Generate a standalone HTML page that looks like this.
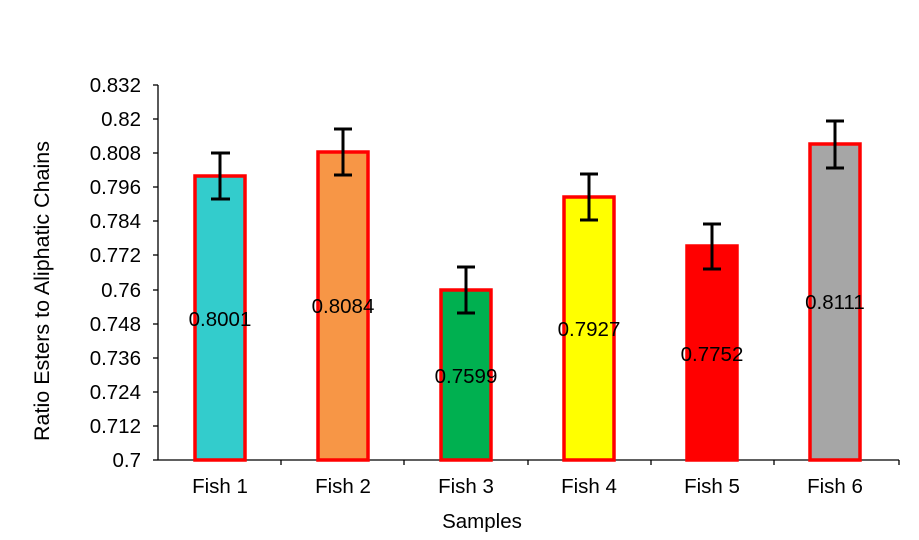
<!DOCTYPE html>
<html><head><meta charset="utf-8"><style>
body{margin:0;background:#fff}
text{font-family:"Liberation Sans",Arial,sans-serif;fill:#000}
</style></head><body>
<svg width="919" height="535" xmlns="http://www.w3.org/2000/svg">
<g font-size="20.5" text-anchor="end">
<text x="141" y="92">0.832</text>
<text x="141" y="126">0.82</text>
<text x="141" y="160">0.808</text>
<text x="141" y="194">0.796</text>
<text x="141" y="228">0.784</text>
<text x="141" y="262">0.772</text>
<text x="141" y="297">0.76</text>
<text x="141" y="331">0.748</text>
<text x="141" y="365">0.736</text>
<text x="141" y="399">0.724</text>
<text x="141" y="433">0.712</text>
<text x="141" y="467">0.7</text>
</g>
<g stroke="#000" stroke-width="1.3">
<line x1="158" y1="85" x2="158" y2="460"/>
<line x1="158" y1="460" x2="899" y2="460"/>
<line x1="153" y1="85" x2="158" y2="85"/>
<line x1="153" y1="119" x2="158" y2="119"/>
<line x1="153" y1="153" x2="158" y2="153"/>
<line x1="153" y1="187" x2="158" y2="187"/>
<line x1="153" y1="221" x2="158" y2="221"/>
<line x1="153" y1="255" x2="158" y2="255"/>
<line x1="153" y1="290" x2="158" y2="290"/>
<line x1="153" y1="324" x2="158" y2="324"/>
<line x1="153" y1="358" x2="158" y2="358"/>
<line x1="153" y1="392" x2="158" y2="392"/>
<line x1="153" y1="426" x2="158" y2="426"/>
<line x1="153" y1="460" x2="158" y2="460"/>
<line x1="281" y1="460" x2="281" y2="465"/>
<line x1="404" y1="460" x2="404" y2="465"/>
<line x1="528" y1="460" x2="528" y2="465"/>
<line x1="651" y1="460" x2="651" y2="465"/>
<line x1="774" y1="460" x2="774" y2="465"/>
<line x1="899" y1="460" x2="899" y2="465"/>
</g>
<g stroke="#ff0000" stroke-width="3.5">
<rect x="195" y="176" width="50" height="284" fill="#33cccc"/>
<rect x="318" y="152" width="50" height="308" fill="#f79646"/>
<rect x="441" y="290" width="50" height="170" fill="#00b050"/>
<rect x="564" y="197" width="50" height="263" fill="#ffff00"/>
<rect x="687" y="246" width="50" height="214" fill="#ff0000"/>
<rect x="810" y="144" width="50" height="316" fill="#a6a6a6"/>
</g>
<g stroke="#000" stroke-width="3">
<path d="M220 153V199M211 153H230M211 199H230"/>
<path d="M343 129V175M334 129H352M334 175H352"/>
<path d="M466 267V313M457 267H475M457 313H475"/>
<path d="M589 174V220M580 174H598M580 220H598"/>
<path d="M712 224V269M703 224H721M703 269H721"/>
<path d="M835 121V168M826 121H844M826 168H844"/>
</g>
<g font-size="20.5" text-anchor="middle">
<text x="220" y="326">0.8001</text>
<text x="343" y="313">0.8084</text>
<text x="466" y="383">0.7599</text>
<text x="589" y="336">0.7927</text>
<text x="712" y="361">0.7752</text>
<text x="835" y="309">0.8111</text>
<text x="220" y="493">Fish 1</text>
<text x="343" y="493">Fish 2</text>
<text x="466" y="493">Fish 3</text>
<text x="589" y="493">Fish 4</text>
<text x="712" y="493">Fish 5</text>
<text x="835" y="493">Fish 6</text>
<text x="482" y="528">Samples</text>
<text font-size="21.5" transform="translate(49,291) rotate(-90)">Ratio Esters to Aliphatic Chains</text>
</g>
</svg>
</body></html>
